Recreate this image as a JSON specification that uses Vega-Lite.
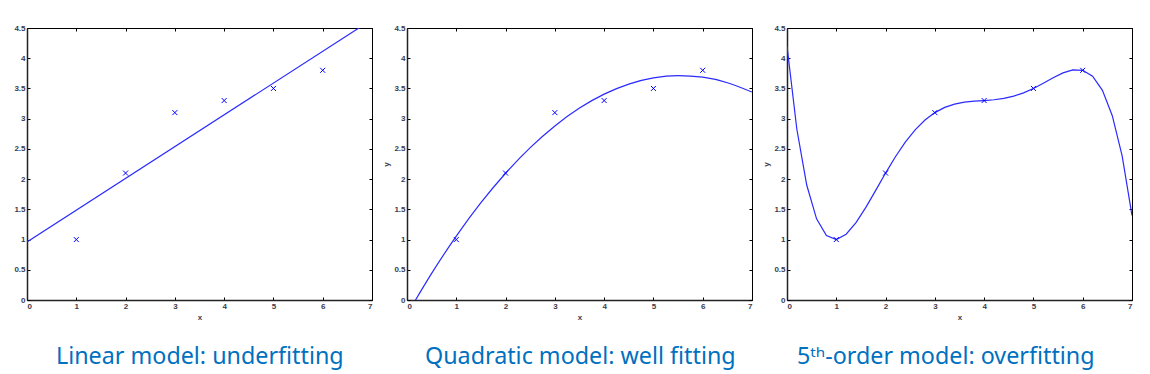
{
  "$schema": "https://vega.github.io/schema/vega-lite/v6.json",
  "background": "white",
  "padding": {"left": 13, "top": 23, "right": 5, "bottom": 5},
  "spacing": 35,
  "bounds": "flush",
  "datasets": {
    "points": [
      {"x": 1, "y": 1.0}, {"x": 2, "y": 2.1}, {"x": 3, "y": 3.1},
      {"x": 4, "y": 3.3}, {"x": 5, "y": 3.5}, {"x": 6, "y": 3.8}
    ],
    "linear": [
      {"x": 0, "y": 0.96}, {"x": 7, "y": 4.64}
    ],
    "quadratic": [
      {"x": 0, "y": -0.24}, {"x": 0.5, "y": 0.4407}, {"x": 1, "y": 1.0571},
      {"x": 1.5, "y": 1.6093}, {"x": 2, "y": 2.0971}, {"x": 2.5, "y": 2.5207},
      {"x": 3, "y": 2.88}, {"x": 3.5, "y": 3.175}, {"x": 4, "y": 3.4057},
      {"x": 4.5, "y": 3.5721}, {"x": 5, "y": 3.6743}, {"x": 5.5, "y": 3.7121},
      {"x": 6, "y": 3.6857}, {"x": 6.5, "y": 3.595}, {"x": 7, "y": 3.44}
    ],
    "quintic": [
      {"x": 0, "y": 4.2}, {"x": 0.2, "y": 2.8243}, {"x": 0.4, "y": 1.9026},
      {"x": 0.6, "y": 1.343}, {"x": 0.8, "y": 1.0653}, {"x": 1, "y": 1.0},
      {"x": 1.2, "y": 1.0878}, {"x": 1.4, "y": 1.2789}, {"x": 1.6, "y": 1.5321},
      {"x": 1.8, "y": 1.8144}, {"x": 2, "y": 2.1}, {"x": 2.2, "y": 2.3697},
      {"x": 2.4, "y": 2.6104}, {"x": 2.6, "y": 2.8141}, {"x": 2.8, "y": 2.9771},
      {"x": 3, "y": 3.1}, {"x": 3.2, "y": 3.1861}, {"x": 3.4, "y": 3.2411},
      {"x": 3.6, "y": 3.2728}, {"x": 3.8, "y": 3.2895}, {"x": 4, "y": 3.3},
      {"x": 4.2, "y": 3.3128}, {"x": 4.4, "y": 3.3351}, {"x": 4.6, "y": 3.3723},
      {"x": 4.8, "y": 3.4274}, {"x": 5, "y": 3.5}, {"x": 5.2, "y": 3.5859},
      {"x": 5.4, "y": 3.6762}, {"x": 5.6, "y": 3.7566}, {"x": 5.8, "y": 3.8069},
      {"x": 6, "y": 3.8}, {"x": 6.2, "y": 3.7014}, {"x": 6.4, "y": 3.4685},
      {"x": 6.6, "y": 3.0497}, {"x": 6.8, "y": 2.384}, {"x": 7, "y": 1.4}
    ]
  },
  "hconcat": [
    {
      "width": 345, "height": 272,
      "title": {"text": "Linear model: underfitting", "dx": 29},
      "layer": [
        {
          "data": {"name": "linear"},
          "mark": {"type": "line", "clip": true, "color": "#2a2aff", "strokeWidth": 1.2},
          "encoding": {
            "x": {"field": "x", "type": "quantitative", "scale": {"domain": [0, 7], "nice": false},
                  "axis": {"orient": "bottom", "values": [0,1,2,3,4,5,6,7], "format": "~g", "title": "x"}},
            "y": {"field": "y", "type": "quantitative", "scale": {"domain": [0, 4.5], "nice": false, "zero": false},
                  "axis": {"orient": "left", "values": [0,0.5,1,1.5,2,2.5,3,3.5,4,4.5], "format": "~g", "title": null}}
          }
        },
        {
          "data": {"name": "points"},
          "mark": {"type": "point", "shape": "M-1,-1L1,1M-1,1L1,-1", "filled": false, "color": "#0000ff", "size": 25, "strokeWidth": 1, "opacity": 1},
          "encoding": {
            "x": {"field": "x", "type": "quantitative",
                  "axis": {"orient": "top", "values": [0,1,2,3,4,5,6,7], "labels": false, "title": null, "domain": false}},
            "y": {"field": "y", "type": "quantitative",
                  "axis": {"orient": "right", "values": [0,0.5,1,1.5,2,2.5,3,3.5,4,4.5], "labels": false, "title": null, "domain": false}}
          }
        }
      ],
      "resolve": {"axis": {"x": "independent", "y": "independent"}}
    },
    {
      "width": 345, "height": 272,
      "title": {"text": "Quadratic model: well fitting", "dx": 18},
      "layer": [
        {
          "data": {"name": "quadratic"},
          "mark": {"type": "line", "clip": true, "color": "#2a2aff", "strokeWidth": 1.2, "interpolate": "monotone"},
          "encoding": {
            "x": {"field": "x", "type": "quantitative", "scale": {"domain": [0, 7], "nice": false},
                  "axis": {"orient": "bottom", "values": [0,1,2,3,4,5,6,7], "format": "~g", "title": "x"}},
            "y": {"field": "y", "type": "quantitative", "scale": {"domain": [0, 4.5], "nice": false, "zero": false},
                  "axis": {"orient": "left", "values": [0,0.5,1,1.5,2,2.5,3,3.5,4,4.5], "format": "~g", "title": "y"}}
          }
        },
        {
          "data": {"name": "points"},
          "mark": {"type": "point", "shape": "M-1,-1L1,1M-1,1L1,-1", "filled": false, "color": "#0000ff", "size": 25, "strokeWidth": 1, "opacity": 1},
          "encoding": {
            "x": {"field": "x", "type": "quantitative",
                  "axis": {"orient": "top", "values": [0,1,2,3,4,5,6,7], "labels": false, "title": null, "domain": false}},
            "y": {"field": "y", "type": "quantitative",
                  "axis": {"orient": "right", "values": [0,0.5,1,1.5,2,2.5,3,3.5,4,4.5], "labels": false, "title": null, "domain": false}}
          }
        }
      ],
      "resolve": {"axis": {"x": "independent", "y": "independent"}}
    },
    {
      "width": 345, "height": 272,
      "title": {"text": "5ᵗʰ-order model: overfitting", "dx": 10},
      "layer": [
        {
          "data": {"name": "quintic"},
          "mark": {"type": "line", "clip": true, "color": "#2a2aff", "strokeWidth": 1.2},
          "encoding": {
            "x": {"field": "x", "type": "quantitative", "scale": {"domain": [0, 7], "nice": false},
                  "axis": {"orient": "bottom", "values": [0,1,2,3,4,5,6,7], "format": "~g", "title": "x"}},
            "y": {"field": "y", "type": "quantitative", "scale": {"domain": [0, 4.5], "nice": false, "zero": false},
                  "axis": {"orient": "left", "values": [0,0.5,1,1.5,2,2.5,3,3.5,4,4.5], "format": "~g", "title": "y"}}
          }
        },
        {
          "data": {"name": "points"},
          "mark": {"type": "point", "shape": "M-1,-1L1,1M-1,1L1,-1", "filled": false, "color": "#0000ff", "size": 25, "strokeWidth": 1, "opacity": 1},
          "encoding": {
            "x": {"field": "x", "type": "quantitative",
                  "axis": {"orient": "top", "values": [0,1,2,3,4,5,6,7], "labels": false, "title": null, "domain": false}},
            "y": {"field": "y", "type": "quantitative",
                  "axis": {"orient": "right", "values": [0,0.5,1,1.5,2,2.5,3,3.5,4,4.5], "labels": false, "title": null, "domain": false}}
          }
        }
      ],
      "resolve": {"axis": {"x": "independent", "y": "independent"}}
    }
  ],
  "config": {
    "view": {"stroke": "#000000", "strokeWidth": 1},
    "axis": {
      "grid": false,
      "domainColor": "#222222",
      "domainWidth": 1.5,
      "tickColor": "#000000",
      "tickSize": -3,
      "tickWidth": 1,
      "labelPadding": 5,
      "labelFont": "Liberation Sans",
      "labelFontSize": 8,
      "labelFontWeight": "bold",
      "labelColor": "#3c3c4c",
      "titleFont": "Liberation Sans",
      "titleFontSize": 8,
      "titleFontWeight": "bold",
      "titleColor": "#3c3c4c",
      "titlePadding": 3
    },
    "title": {
      "orient": "bottom",
      "anchor": "start",
      "frame": "group",
      "font": "Noto Sans",
      "fontSize": 23.3,
      "fontWeight": "normal",
      "color": "#0070C0",
      "baseline": "alphabetic",
      "offset": 25
    }
  }
}
